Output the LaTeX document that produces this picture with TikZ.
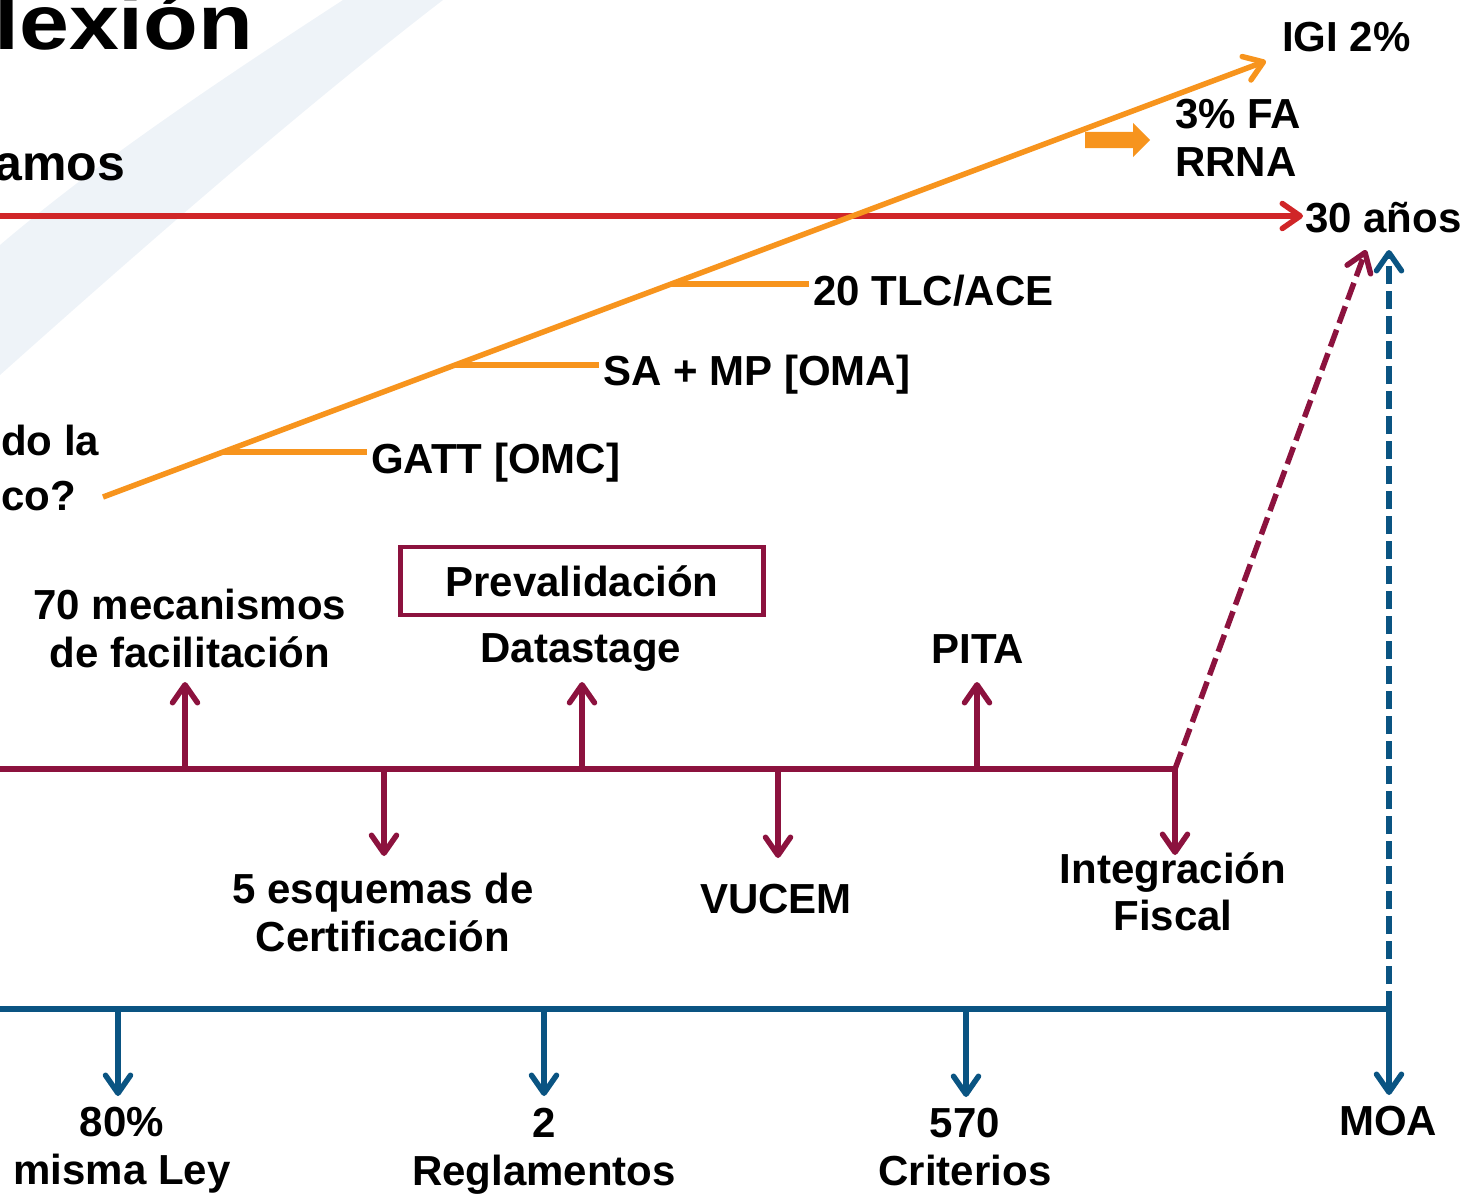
\documentclass[tikz,border=0pt]{standalone}
\usepackage{fontspec}
\setmainfont{Liberation Sans}
\usetikzlibrary{arrows.meta}
\definecolor{naranja}{RGB}{247,148,29}
\definecolor{rojo}{RGB}{208,38,40}
\definecolor{guinda}{RGB}{140,18,62}
\definecolor{azul}{RGB}{10,84,130}
\definecolor{fondo}{RGB}{238,243,248}
\begin{document}
\begin{tikzpicture}[x=1pt,y=-1pt,
    texto/.style={font=\fontsize{42}{47.5}\selectfont\bfseries,inner sep=0pt,align=center},
    linea/.style={line width=5.5pt},
    punta/.style={-{Straight Barb[length=18pt,width=25pt,round]}},
    discontinua/.style={dash pattern=on 18pt off 7pt}]
            \useasboundingbox (0,0) rectangle (1461,1196);
            \clip (0,0) rectangle (1461,1196);
            \fill[fondo] (343,0) .. controls (220,80) and (100,160) .. (0,245) -- (0,375) .. controls (140,250) and (300,110) .. (443,0) -- cycle;

            \node[inner sep=0pt, anchor=base west, font=\fontsize{78}{80}\selectfont\bfseries] (titulo) at (-6,50) {\scalebox{1.15}[1]{lexión}};
            \node[inner sep=0pt, anchor=base west, font=\fontsize{50}{56}\selectfont\bfseries] (amos) at (-6,180) {amos};
            \node[texto, anchor=base west, align=left] (pregunta) at (1,510) {do la\\[7.5pt]co?};

            \node[texto, anchor=base west] (igi) at (1282,52) {IGI 2\%};
            \node[texto, anchor=north west, align=left] (fa) at (1175,99) {3\% FA\\RRNA};
            \node[texto, anchor=base west] (anios) at (1305,232) {30 años};
            \node[texto, anchor=base west] (tlc) at (813,305) {20 TLC/ACE};
            \node[texto, anchor=base west] (sa) at (603,385) {SA + MP [OMA]};
            \node[texto, anchor=base west] (gatt) at (371,473) {GATT [OMC]};

            \coordinate (rIni) at (0,216);
            \draw[rojo, linea, punta, shorten >=2pt] (rIni) -- (anios.west |- rIni);

            \coordinate (nIni) at (103,497);
            \coordinate (nFin) at (1266,61);
            \coordinate (t1) at (223,452);
            \coordinate (t2) at (455,365);
            \coordinate (t3) at (671,284);
            \draw[naranja, linea, punta] (nIni) -- (nFin);
            \draw[naranja, linea, shorten >=4pt] (t1) -- (t1 -| gatt.west);
            \draw[naranja, linea, shorten >=4pt] (t2) -- (t2 -| sa.west);
            \draw[naranja, linea, shorten >=4pt] (t3) -- (t3 -| tlc.west);
            \fill[naranja] (1085,132) -- (1133,132) -- (1133,123) -- (1150,140) -- (1133,157) -- (1133,148) -- (1085,148) -- cycle;

            \node[texto, anchor=north] (mec) at (190,589) {70 mecanismos\\de facilitación};
            \node[texto, draw=guinda, line width=4.5pt, minimum width=363pt, minimum height=68pt] (prev) at (582,581) {Prevalidación};
            \node[texto, anchor=base] (dat) at (581,662) {Datastage};
            \node[texto, anchor=base] (pita) at (978,663) {PITA};
            \node[texto, anchor=north] (esq) at (383,873) {5 esquemas de\\Certificación};
            \node[texto, anchor=base] (vuc) at (776,913) {VUCEM};
            \node[texto, anchor=north] (integ) at (1173,852) {Integración\\Fiscal};

            \coordinate (gIni) at (0,769);
            \coordinate (gFin) at (1175,769);
            \coordinate (gTip) at (1366,250);
            \coordinate (g1) at (185,769);
            \coordinate (g1f) at (185,682);
            \coordinate (g2) at (384,769);
            \coordinate (g2f) at (384,856);
            \coordinate (g3) at (582,769);
            \coordinate (g3f) at (582,682);
            \coordinate (g4) at (778,769);
            \coordinate (g4f) at (778,858);
            \coordinate (g5) at (977,769);
            \coordinate (g5f) at (977,682);
            \coordinate (g6f) at (1175,855);
            \draw[guinda, linea] (gIni) -- (gFin);
            \draw[guinda, linea, punta] (g1) -- (g1f);
            \draw[guinda, linea, punta] (g2) -- (g2f);
            \draw[guinda, linea, punta] (g3) -- (g3f);
            \draw[guinda, linea, punta] (g4) -- (g4f);
            \draw[guinda, linea, punta] (g5) -- (g5f);
            \draw[guinda, linea, punta] (gFin) -- (g6f);
            \draw[guinda, linea, discontinua, punta] (gFin) -- (gTip);

            \node[texto, anchor=north] (ley) at (122,1107) {80\%\\misma Ley};
            \node[texto, anchor=north] (regl) at (544,1108) {2\\Reglamentos};
            \node[texto, anchor=north] (crit) at (965,1108) {570\\Criterios};
            \node[texto, anchor=base] (moa) at (1388,1135) {MOA};

            \coordinate (aIni) at (0,1009);
            \coordinate (aFin) at (1389,1009);
            \coordinate (aTip) at (1389,250);
            \coordinate (a1) at (118,1009);
            \coordinate (a1f) at (118,1096);
            \coordinate (a2) at (544,1009);
            \coordinate (a2f) at (544,1096);
            \coordinate (a3) at (966,1009);
            \coordinate (a3f) at (966,1097);
            \coordinate (a4f) at (1389,1095);
            \draw[azul, linea] (aIni) -- (aFin);
            \draw[azul, linea, punta] (a1) -- (a1f);
            \draw[azul, linea, punta] (a2) -- (a2f);
            \draw[azul, linea, punta] (a3) -- (a3f);
            \draw[azul, linea, punta] (aFin) -- (a4f);
            \draw[azul, linea, discontinua, punta] (aFin) -- (aTip);
        \end{tikzpicture}
\end{document}
